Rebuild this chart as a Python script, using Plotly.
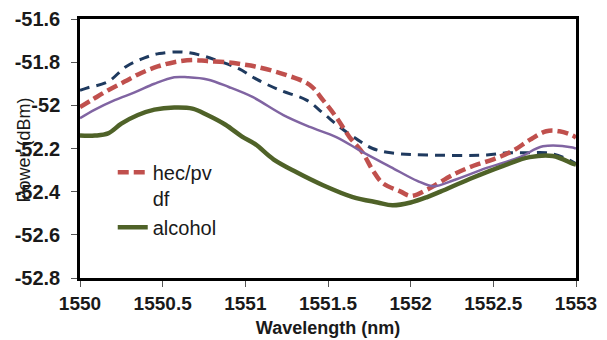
import plotly.graph_objects as go

# ---- data ----
black_x = [1550.0, 1550.04, 1550.17, 1550.28, 1550.39, 1550.48, 1550.62, 1550.74, 1550.84, 1550.96,
           1551.07, 1551.21, 1551.37, 1551.47, 1551.57, 1551.68, 1551.77, 1551.88, 1552.1, 1552.46,
           1552.58, 1552.7, 1552.82, 1552.92, 1553.0]
black_y = [-51.93, -51.92, -51.89, -51.82, -51.78, -51.76, -51.753, -51.77, -51.795, -51.83,
           -51.88, -51.93, -51.976, -52.036, -52.1, -52.16, -52.2, -52.22, -52.23, -52.23,
           -52.22, -52.22, -52.22, -52.24, -52.27]

red_x = [1550.0, 1550.07, 1550.17, 1550.27, 1550.37, 1550.47, 1550.57, 1550.68, 1550.77, 1550.88,
         1550.98, 1551.06, 1551.25, 1551.39, 1551.47, 1551.55, 1551.63, 1551.71, 1551.77, 1551.83,
         1551.94, 1552.0, 1552.1, 1552.26, 1552.38, 1552.5, 1552.62, 1552.72, 1552.82, 1552.9,
         1552.98, 1553.0]
red_y = [-52.008, -51.976, -51.93, -51.89, -51.85, -51.82, -51.8, -51.79, -51.795, -51.8,
         -51.81, -51.82, -51.86, -51.906, -51.976, -52.055, -52.147, -52.22, -52.3, -52.36,
         -52.40, -52.42, -52.39, -52.32, -52.28, -52.25, -52.21, -52.16, -52.12, -52.12,
         -52.14, -52.15]

purple_x = [1550.0, 1550.09, 1550.21, 1550.33, 1550.45, 1550.57, 1550.65, 1550.77, 1550.9, 1551.04,
            1551.23, 1551.39, 1551.55, 1551.71, 1551.88, 1552.04, 1552.14, 1552.26, 1552.46, 1552.66,
            1552.8, 1552.98, 1553.0]
purple_y = [-52.06, -52.02, -51.976, -51.94, -51.9, -51.87, -51.87, -51.88, -51.915, -51.96,
            -52.045, -52.1, -52.147, -52.217, -52.286, -52.35, -52.375, -52.347, -52.29, -52.24,
            -52.19, -52.195, -52.2]

green_x = [1550.0, 1550.09, 1550.17, 1550.25, 1550.35, 1550.45, 1550.57, 1550.68, 1550.77, 1550.88,
           1550.98, 1551.06, 1551.17, 1551.31, 1551.47, 1551.65, 1551.8, 1551.89, 1552.0, 1552.1,
           1552.18, 1552.36, 1552.56, 1552.72, 1552.86, 1552.98, 1553.0]
green_y = [-52.14, -52.14, -52.13, -52.085, -52.045, -52.02, -52.01, -52.015, -52.045, -52.09,
           -52.145, -52.18, -52.25, -52.31, -52.37, -52.425, -52.45, -52.463, -52.45, -52.425,
           -52.40, -52.34, -52.28, -52.24, -52.235, -52.27, -52.275]

x_ticks = [1550, 1550.5, 1551, 1551.5, 1552, 1552.5, 1553]
x_tick_labels = ["1550", "1550.5", "1551", "1551.5", "1552", "1552.5", "1553"]
y_ticks = [-51.6, -51.8, -52.0, -52.2, -52.4, -52.6, -52.8]
y_tick_labels = ["-51.6", "-51.8", "-52", "-52.2", "-52.4", "-52.6", "-52.8"]

FONT = "Liberation Sans"

fig = go.Figure()
fig.add_trace(go.Scatter(x=black_x, y=black_y, mode="lines", name="air", showlegend=False,
                         line=dict(color="#1F3A5F", width=3, dash="10px,7px", shape="spline")))
fig.add_trace(go.Scatter(x=red_x, y=red_y, mode="lines", name="hec/pv<br>df",
                         line=dict(color="#C0504D", width=4.5, dash="11px,5px", shape="spline")))
fig.add_trace(go.Scatter(x=purple_x, y=purple_y, mode="lines", name="water", showlegend=False,
                         line=dict(color="#8064A2", width=2.5, shape="spline")))
fig.add_trace(go.Scatter(x=green_x, y=green_y, mode="lines", name="alcohol",
                         line=dict(color="#4F6228", width=4.5, shape="spline")))

# the page body adds an 8px offset, so margins are shifted to compensate
fig.update_layout(
    width=607, height=340,
    margin=dict(l=72, r=39, t=11, b=70),
    paper_bgcolor="white", plot_bgcolor="white",
    font=dict(family=FONT, color="#1a1a1a"),
    showlegend=True,
    legend=dict(x=0.066, y=0.484, xanchor="left", yanchor="top", bgcolor="rgba(0,0,0,0)",
                font=dict(family=FONT, size=20, color="#1a1a1a"), valign="top",
                tracegroupgap=7),
    xaxis=dict(range=[1550, 1553], tickvals=x_ticks, ticktext=x_tick_labels, automargin=False,
               showgrid=False, zeroline=False, showline=True, mirror=True,
               linecolor="black", linewidth=2.5, ticks="outside", ticklen=6,
               tickcolor="#555", tickwidth=1,
               tickfont=dict(family=FONT, size=19, color="#1a1a1a", weight="bold"),
               title=dict(text="<b>Wavelength (nm)</b>", font=dict(family=FONT, size=18, color="#1a1a1a"),
                          standoff=9)),
    yaxis=dict(range=[-52.8, -51.6], tickvals=y_ticks, ticktext=y_tick_labels, automargin=False,
               showgrid=False, zeroline=False, showline=True, mirror=True,
               linecolor="black", linewidth=2.5, ticks="outside", ticklen=6,
               tickcolor="#555", tickwidth=1, ticklabelstandoff=7,
               tickfont=dict(family=FONT, size=20, color="#1a1a1a", weight="bold")),
    annotations=[dict(text="Power (dBm)", textangle=-90, xref="paper", yref="paper",
                      x=-0.112, y=0.494, xanchor="center", yanchor="middle", showarrow=False,
                      font=dict(family=FONT, size=18, color="#1a1a1a"))],
)

fig.write_html("out.html")
